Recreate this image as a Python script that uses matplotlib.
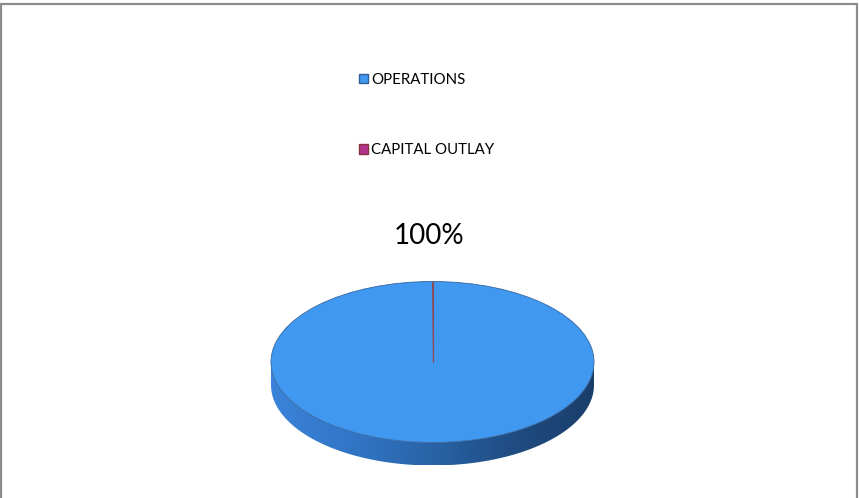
import numpy as np
import matplotlib.pyplot as plt
from matplotlib.patches import Polygon, Rectangle, Patch, Ellipse
from matplotlib.transforms import Affine2D
from matplotlib.colors import LinearSegmentedColormap

plt.rcParams['font.family'] = ['Lato', 'DejaVu Sans']

categories = ["OPERATIONS", "CAPITAL OUTLAY"]
shares = [100, 0]
top_colors = ["#4198f0", "#b3338e"]
legend_edges = ["#2f5f96", "#8a2f3c"]

W, H = 859, 498
fig = plt.figure(figsize=(W / 100, H / 100), dpi=100)
ax = fig.add_axes([0, 0, 1, 1])

# pie geometry in pixels (y up)
cx, cy = 432.5, H - 362
rx, ry = 161.5, 80.5
depth = 23

# side wall of the disc, shaded left to right
t = np.linspace(np.pi, 2 * np.pi, 200)
xs = cx + rx * np.cos(t)
ys = cy + ry * np.sin(t)
side_pts = np.vstack([np.column_stack([xs, ys]),
                      np.column_stack([xs[::-1], ys[::-1] - depth])])
side = Polygon(side_pts, closed=True, facecolor='none', edgecolor='none')
ax.add_patch(side)
side_cmap = LinearSegmentedColormap.from_list(
    "side", ["#3b83da", "#3176c6", "#2963a6", "#1f4c82", "#1a3e6a"])
grad = np.linspace(0, 1, 400).reshape(1, -1)
img = ax.imshow(grad, cmap=side_cmap, aspect='auto',
                extent=(cx - rx, cx + rx, cy - ry - depth, cy), zorder=1)
img.set_clip_path(side)

# top face
wedges, _ = ax.pie(shares, colors=top_colors, startangle=90, counterclock=False,
                   radius=1, center=(0, 0), wedgeprops=dict(linewidth=0))
ell = Affine2D().scale(rx, ry).translate(cx, cy) + ax.transData
for w in wedges:
    w.set_transform(ell)
    w.set_zorder(2)
ax.add_patch(Ellipse((cx, cy), 2 * rx, 2 * ry, facecolor='none',
                     edgecolor='#3566a0', lw=0.6, zorder=3))

# slice boundaries
frac = np.cumsum(shares) / np.sum(shares)
for f in np.unique(np.r_[0, frac]):
    a = np.deg2rad(90 - 360 * f)
    ax.plot([cx, cx + rx * np.cos(a)], [cy, cy + ry * np.sin(a)],
            color="#8c4a58", lw=0.8, zorder=4)

# data label for non-empty slices
for s in shares:
    if s > 0:
        ax.text(429, H - 236, f"{100 * s / sum(shares):.0f}%",
                ha='center', va='center', fontsize=20, color='black')

handles = [Patch(facecolor=c, edgecolor=e, lw=1.0)
           for c, e in zip(top_colors, legend_edges)]
ax.legend(handles, categories, loc='upper left',
          bbox_to_anchor=(359 / W, 1 - 73 / H), frameon=False,
          fontsize=10.8, handlelength=0.6, handleheight=0.6,
          handletextpad=0.2, labelspacing=3.75, borderpad=0,
          borderaxespad=0)

# chart area border
ax.add_patch(Rectangle((1, -5), 856, H - 4 + 5, facecolor='none',
                       edgecolor='#8c8c8c', lw=1.6, zorder=5))

ax.set_xlim(0, W)
ax.set_ylim(0, H)
ax.set_aspect('auto')
ax.axis('off')

fig.savefig("out.png", dpi=100)
